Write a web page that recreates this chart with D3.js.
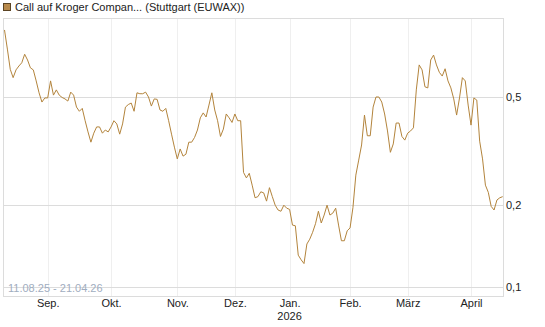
<!DOCTYPE html>
<html>
<head>
<meta charset="utf-8">
<script src="https://cdn.jsdelivr.net/npm/d3@7"></script>
<style>
    body { margin: 0; background: #fff; }
    svg { display: block; font-family: "Liberation Sans", Arial, sans-serif; }
</style>
</head>
<body>
<div id="chart"></div>
<script>
/* global d3 */

// DATA
var seriesName = 'Call auf Kroger Compan... (Stuttgart (EUWAX))';
var rangeLabel = '11.08.25 - 21.04.26';
var firstDay = '2025-08-11',
    lastDay = '2026-04-20';
var holidays = ['2025-12-24', '2025-12-25', '2025-12-26', '2025-12-31', '2026-01-01', '2026-04-03', '2026-04-06'];

// one close per trading day
var closes = [
    // Aug
    0.882, 0.75, 0.632, 0.589, 0.629, 0.650, 0.668, 0.718, 0.684, 0.640, 0.629, 0.573, 0.518, 0.479, 0.496,
    // Sep
    0.496, 0.573, 0.508, 0.531, 0.508, 0.498, 0.492, 0.483, 0.521, 0.508, 0.459, 0.443, 0.454, 0.409, 0.372,
    0.341, 0.368, 0.388, 0.388, 0.368, 0.378, 0.372,
    // Okt
    0.388, 0.409, 0.398, 0.365, 0.398, 0.459, 0.469, 0.475, 0.443, 0.518, 0.514, 0.514, 0.521, 0.5, 0.463,
    0.492, 0.49, 0.448, 0.443, 0.454, 0.409, 0.365, 0.327,
    // Nov
    0.296, 0.322, 0.303, 0.308, 0.341, 0.341, 0.355, 0.378, 0.419, 0.437, 0.422, 0.467, 0.518, 0.448, 0.409,
    0.358, 0.381, 0.433, 0.419, 0.403,
    // Dez
    0.433, 0.409, 0.409, 0.264, 0.252, 0.262, 0.237, 0.213, 0.215, 0.224, 0.222, 0.207, 0.232, 0.215, 0.2,
    0.192, 0.19, 0.2, 0.195,
    // Jan
    0.193, 0.169, 0.168, 0.131, 0.126, 0.122, 0.144, 0.150, 0.159, 0.171, 0.19, 0.172, 0.184, 0.2, 0.184,
    0.187, 0.195, 0.169, 0.148, 0.148, 0.161,
    // Feb
    0.165, 0.196, 0.258, 0.293, 0.333, 0.429, 0.360, 0.360, 0.459, 0.5, 0.5, 0.479, 0.433, 0.375, 0.313,
    0.336, 0.401, 0.401, 0.358, 0.347,
    // Maerz
    0.368, 0.375, 0.385, 0.531, 0.656, 0.629, 0.545, 0.540, 0.684, 0.713, 0.656, 0.616, 0.597, 0.635, 0.573,
    0.540, 0.492, 0.429, 0.496, 0.589, 0.573, 0.467,
    // April
    0.394, 0.496, 0.487, 0.344, 0.296, 0.237, 0.223, 0.198, 0.192, 0.209, 0.213, 0.215
];

var monthLabels = ['Aug.', 'Sep.', 'Okt.', 'Nov.', 'Dez.', 'Jan.', 'Feb.', 'März', 'April'];
var yTicks = [0.1, 0.2, 0.5];
var yDomain = [0.0927, 0.976];

var
    width = 545,
    height = 327,
    plot = { left: 3, right: 503, top: 18, bottom: 296 },
    lineColor = '#b3843c',
    gridH = '#dcdcdc',
    gridV = '#efefef';

// TRADING CALENDAR (weekdays without exchange holidays)
var parse = d3.utcParse('%Y-%m-%d'),
    fmt = d3.utcFormat('%Y-%m-%d');
var days = d3.utcDays(parse(firstDay), d3.utcDay.offset(parse(lastDay), 1))
    .filter(function (d) { return d.getUTCDay() !== 0 && d.getUTCDay() !== 6 && holidays.indexOf(fmt(d)) < 0; });

var data = days.map(function (d, i) { return { date: d, value: closes[i] }; });

var xScale = d3.scaleLinear()
    .domain([0, data.length - 1])
    .range([plot.left + 1.5, plot.right - 0.3]);

var yScale = d3.scaleLog()
    .domain(yDomain)
    .range([plot.bottom, plot.top]);

// month starts -> tick index
var monthTicks = [];
data.forEach(function (d, i) {
    if (i > 0 && d.date.getUTCMonth() !== data[i - 1].date.getUTCMonth()) {
        monthTicks.push({ i: i, label: monthLabels[monthTicks.length + 1], year: d.date.getUTCMonth() === 0 ? d.date.getUTCFullYear() : null });
    }
});

var svg = d3.select('#chart').append('svg')
    .attr('width', width)
    .attr('height', height);

// LEGEND
svg.append('rect')
    .attr('x', 3.5).attr('y', 3.5)
    .attr('width', 7).attr('height', 7)
    .attr('fill', '#b88a4c')
    .attr('stroke', '#5b4424');

svg.append('text')
    .attr('x', 15).attr('y', 11)
    .attr('font-size', '11px')
    .attr('fill', '#222')
    .text(seriesName);

// GRID
var grid = svg.append('g');

grid.selectAll('.vgrid')
    .data(monthTicks)
    .enter().append('line')
    .attr('x1', function (d) { return Math.round(xScale(d.i)) + 0.5; })
    .attr('x2', function (d) { return Math.round(xScale(d.i)) + 0.5; })
    .attr('y1', plot.top)
    .attr('y2', plot.bottom)
    .attr('stroke', gridV);

grid.selectAll('.hgrid')
    .data(yTicks)
    .enter().append('line')
    .attr('x1', plot.left)
    .attr('x2', plot.right)
    .attr('y1', function (d) { return Math.round(yScale(d)) + 0.5; })
    .attr('y2', function (d) { return Math.round(yScale(d)) + 0.5; })
    .attr('stroke', gridH);

svg.append('rect')
    .attr('x', plot.left + 0.5).attr('y', plot.top + 0.5)
    .attr('width', plot.right - plot.left)
    .attr('height', plot.bottom - plot.top)
    .attr('fill', 'none')
    .attr('stroke', gridH);

// RANGE LABEL
svg.append('text')
    .attr('x', 8).attr('y', plot.bottom - 4)
    .attr('font-size', '11px')
    .attr('fill', '#9fadc0')
    .text(rangeLabel);

// AXES
var xAxis = d3.axisBottom(xScale)
    .tickValues(monthTicks.map(function (d) { return d.i; }))
    .tickSize(0)
    .tickPadding(3)
    .tickFormat(function (v) {
        return monthTicks.filter(function (d) { return d.i === v; })[0].label;
    });

var gx = svg.append('g')
    .attr('transform', 'translate(0,' + plot.bottom + ')')
    .call(xAxis);
gx.select('.domain').remove();
gx.selectAll('text').attr('font-size', '11px').attr('fill', '#222').attr('font-family', null);

svg.append('g').selectAll('text')
    .data(monthTicks.filter(function (d) { return d.year; }))
    .enter().append('text')
    .attr('x', function (d) { return xScale(d.i); })
    .attr('y', plot.bottom + 24)
    .attr('text-anchor', 'middle')
    .attr('font-size', '11px')
    .attr('fill', '#222')
    .text(function (d) { return d.year; });

var yAxis = d3.axisRight(yScale)
    .tickValues(yTicks)
    .tickSize(0)
    .tickPadding(3)
    .tickFormat(function (v) { return String(v).replace('.', ','); });

var gy = svg.append('g')
    .attr('transform', 'translate(' + plot.right + ',0)')
    .call(yAxis);
gy.select('.domain').remove();
gy.selectAll('text').attr('font-size', '11px').attr('fill', '#222').attr('font-family', null);

// LINE
var line = d3.line()
    .x(function (d, i) { return xScale(i); })
    .y(function (d) { return yScale(d.value); });

svg.append('path')
    .datum(data)
    .attr('fill', 'none')
    .attr('stroke', lineColor)
    .attr('stroke-width', 1)
    .attr('d', line);
</script>
</body>
</html>
